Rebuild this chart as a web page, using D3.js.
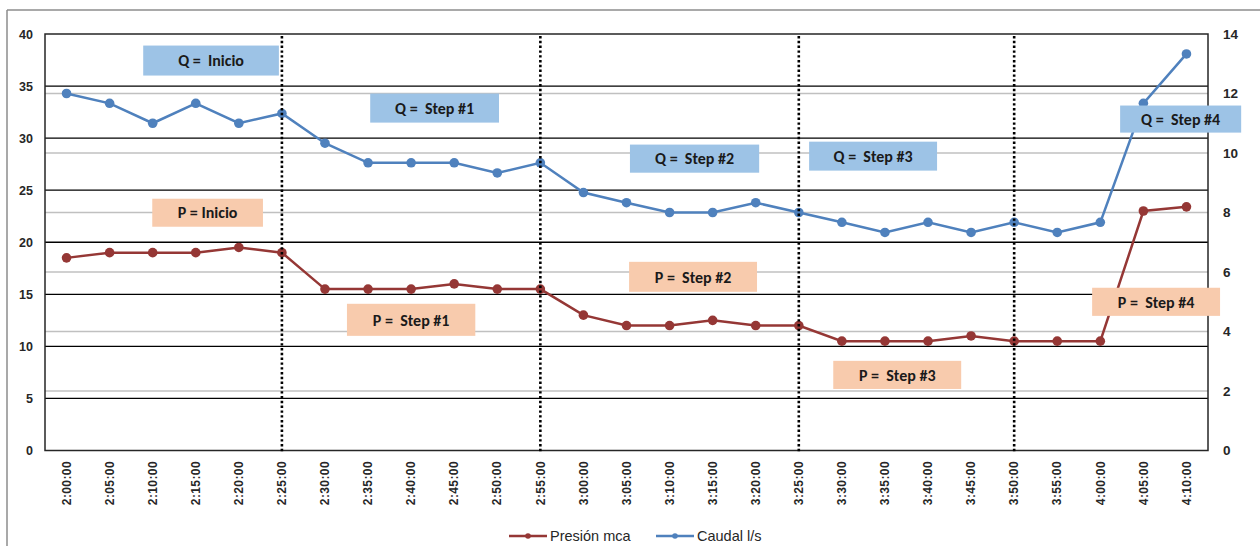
<!DOCTYPE html>
<html>
<head>
<meta charset="utf-8">
<script src="https://cdn.jsdelivr.net/npm/d3@7"></script>
<style>
  html, body { margin: 0; padding: 0; background: #fff; }
  svg { display: block; }
</style>
</head>
<body>
<svg id="chart" width="1260" height="546"></svg>
<script>
// ---------- DATA ----------
const categories = ["2:00:00","2:05:00","2:10:00","2:15:00","2:20:00","2:25:00","2:30:00","2:35:00","2:40:00",
  "2:45:00","2:50:00","2:55:00","3:00:00","3:05:00","3:10:00","3:15:00","3:20:00","3:25:00","3:30:00",
  "3:35:00","3:40:00","3:45:00","3:50:00","3:55:00","4:00:00","4:05:00","4:10:00"];
const presion = [18.5,19,19,19,19.5,19,15.5,15.5,15.5,16,15.5,15.5,13,12,12,12.5,12,12,10.5,10.5,10.5,11,10.5,10.5,10.5,23,23.4];
const caudal = [12,11.67,11,11.67,11,11.33,10.33,9.67,9.67,9.67,9.33,9.67,8.67,8.33,8,8,8.33,8,7.67,7.33,7.67,7.33,7.67,7.33,7.67,11.67,13.33];
const leftTicks = [0,5,10,15,20,25,30,35,40];
const rightTicks = [0,2,4,6,8,10,12,14];
const stepMarks = ["2:25:00","2:55:00","3:25:00","3:50:00"];
const seriesNames = ["Presión mca","Caudal l/s"];
// annotation boxes: label, kind, extent in category-index units and left-axis units
const annLabels = ["Q =  Inicio","P = Inicio","Q =  Step #1","P =  Step #1","Q =  Step #2","P =  Step #2","Q =  Step #3","P =  Step #3","P =  Step #4","Q =  Step #4"];
const annKind   = ["Q","P","Q","P","Q","P","Q","P","P","Q"];
const annX0 = [1.78,1.99,7.05,6.51,13.08,13.06,17.24,17.80,23.81,24.46];
const annX1 = [4.93,4.56,10.04,9.49,16.08,16.03,20.21,20.77,26.78,27.27];
const annY0 = [36.01,21.49,31.49,11.01,26.68,15.24,26.88,5.91,12.93,30.53];
const annY1 = [38.89,24.18,34.28,14.09,29.38,18.12,29.66,8.61,15.63,33.13];

// ---------- LAYOUT ----------
const L = 45, R = 1208, T = 34, B = 450.5;
const colP = "#953735", colQ = "#4f81bd";
const boxColor = { Q: "#9dc3e6", P: "#f8cbad" };

const svg = d3.select("#chart");

const x = d3.scalePoint().domain(categories).range([L, R]).padding(0.5);
const xi = d3.scaleLinear().domain([0, categories.length - 1]).range([x(categories[0]), x(categories[categories.length - 1])]);
const yL = d3.scaleLinear().domain([0, 40]).range([B, T]);
const yR = d3.scaleLinear().domain([0, 14]).range([B, T]);

// outer frame
svg.append("line").attr("x1", 7).attr("x2", 1260).attr("y1", 10).attr("y2", 10).attr("stroke", "#8c8c8c").attr("stroke-width", 1.5);
svg.append("line").attr("x1", 7).attr("x2", 7).attr("y1", 10).attr("y2", 546).attr("stroke", "#8c8c8c").attr("stroke-width", 1.5);

// gray gridlines (right axis)
svg.append("g").selectAll("line").data(rightTicks.filter(d => d > 0 && d < 14)).join("line")
  .attr("x1", L).attr("x2", R).attr("y1", d => yR(d)).attr("y2", d => yR(d))
  .attr("stroke", "#c0c0c0").attr("stroke-width", 1.5);

// black gridlines (left axis)
svg.append("g").selectAll("line").data(leftTicks.filter(d => d > 0 && d < 40)).join("line")
  .attr("x1", L).attr("x2", R).attr("y1", d => yL(d)).attr("y2", d => yL(d))
  .attr("stroke", "#000").attr("stroke-width", 1.3);

// plot border
svg.append("rect").attr("x", L).attr("y", T).attr("width", R - L).attr("height", B - T)
  .attr("fill", "none").attr("stroke", "#262626").attr("stroke-width", 1.5);

// axes labels
const axL = svg.append("g").attr("transform", `translate(${L},0)`)
  .call(d3.axisLeft(yL).tickValues(leftTicks).tickSize(0).tickPadding(12).tickFormat(d3.format("d")));
axL.select(".domain").remove();
axL.selectAll("text").attr("font-family", "Liberation Sans, Arial, sans-serif").attr("font-weight", "bold")
  .attr("font-size", 12.5).attr("fill", "#262626");

const axR = svg.append("g").attr("transform", `translate(${R},0)`)
  .call(d3.axisRight(yR).tickValues(rightTicks).tickSize(0).tickPadding(15).tickFormat(d3.format("d")));
axR.select(".domain").remove();
axR.selectAll("text").attr("font-family", "Liberation Sans, Arial, sans-serif").attr("font-weight", "bold")
  .attr("font-size", 13.5).attr("fill", "#262626");

// x labels rotated
svg.append("g").selectAll("text").data(categories).join("text")
  .attr("transform", d => `translate(${x(d)},461) rotate(-90)`)
  .attr("text-anchor", "end").attr("dy", "0.35em")
  .attr("font-family", "Liberation Sans, Arial, sans-serif").attr("font-weight", "bold")
  .attr("font-size", 12).attr("letter-spacing", 0.4).attr("fill", "#262626")
  .text(d => d);

// series lines
const lineP = d3.line().x((d, i) => x(categories[i])).y(d => yL(d));
const lineQ = d3.line().x((d, i) => x(categories[i])).y(d => yR(d));
svg.append("path").datum(presion).attr("d", lineP).attr("fill", "none").attr("stroke", colP).attr("stroke-width", 2.5);
svg.append("g").selectAll("circle").data(presion).join("circle")
  .attr("cx", (d, i) => x(categories[i])).attr("cy", d => yL(d)).attr("r", 4.8).attr("fill", colP);
svg.append("path").datum(caudal).attr("d", lineQ).attr("fill", "none").attr("stroke", colQ).attr("stroke-width", 2.5);
svg.append("g").selectAll("circle").data(caudal).join("circle")
  .attr("cx", (d, i) => x(categories[i])).attr("cy", d => yR(d)).attr("r", 4.8).attr("fill", colQ);

// annotation boxes
const ann = svg.append("g");
annLabels.forEach((lab, i) => {
  const bx = xi(annX0[i]), bx2 = xi(annX1[i]);
  const by = yL(annY1[i]), by2 = yL(annY0[i]);
  ann.append("rect").attr("x", bx).attr("y", by).attr("width", bx2 - bx).attr("height", by2 - by)
    .attr("fill", boxColor[annKind[i]]);
  ann.append("text").attr("x", (bx + bx2) / 2).attr("y", (by + by2) / 2).attr("dy", "0.36em")
    .attr("text-anchor", "middle").style("white-space", "pre")
    .attr("font-family", "Carlito, Lato, sans-serif").attr("font-weight", "bold")
    .attr("font-size", 16).attr("fill", "#1a1a1a").text(lab);
});

// step dotted vertical lines
svg.append("g").selectAll("line").data(stepMarks).join("line")
  .attr("x1", d => x(d)).attr("x2", d => x(d)).attr("y1", T + 2).attr("y2", B + 2)
  .attr("stroke", "#000").attr("stroke-width", 2.6).attr("stroke-dasharray", "2.4,2.4");

// legend
const leg = svg.append("g").attr("font-family", "Liberation Sans, Arial, sans-serif").attr("font-size", 14.5).attr("fill", "#262626");
const legItems = [{ name: seriesNames[0], color: colP, x0: 509 }, { name: seriesNames[1], color: colQ, x0: 656 }];
legItems.forEach(it => {
  leg.append("line").attr("x1", it.x0).attr("x2", it.x0 + 38).attr("y1", 536).attr("y2", 536)
    .attr("stroke", it.color).attr("stroke-width", 2.5);
  leg.append("circle").attr("cx", it.x0 + 19).attr("cy", 536).attr("r", 2.8).attr("fill", it.color);
  leg.append("text").attr("x", it.x0 + 41).attr("y", 536).attr("dy", "0.35em").text(it.name);
});
</script>
</body>
</html>
